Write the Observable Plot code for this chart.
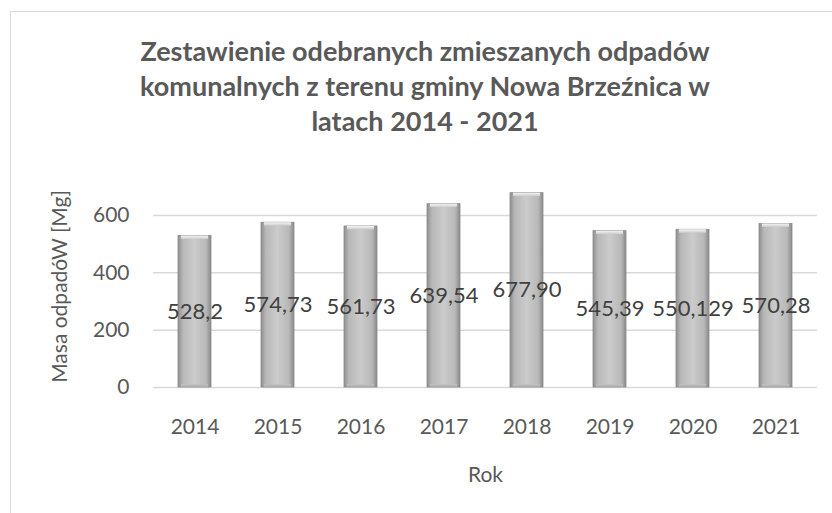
<!DOCTYPE html>
<html>
<head>
<meta charset="utf-8">
<script src="https://cdn.jsdelivr.net/npm/d3@7"></script>
<script src="https://cdn.jsdelivr.net/npm/@observablehq/plot@0.6"></script>
<style>
  html, body { margin: 0; padding: 0; background: #fff; }
  #wrap { position: relative; width: 832px; height: 513px; overflow: hidden; font-family: Lato, "Open Sans", sans-serif; }
  #frame { position: absolute; left: 10px; top: 11px; width: 900px; height: 600px; border-left: 1.5px solid #d9d9d9; border-top: 1.5px solid #d9d9d9; }
  #title { position: absolute; left: 0; top: 33px; width: 850px; text-align: center; font-weight: bold; font-size: 27px; line-height: 35px; color: #595959; }
  #chart { position: absolute; left: 0; top: 0; }
</style>
</head>
<body>
<div id="wrap">
  <div id="frame"></div>
  <div id="chart"></div>
  <div id="title">Zestawienie odebranych zmieszanych odpadów<br>komunalnych z terenu gminy Nowa Brzeźnica w<br>latach 2014 - 2021</div>
</div>
<script>
const years = ["2014", "2015", "2016", "2017", "2018", "2019", "2020", "2021"];
const values = [528.2, 574.73, 561.73, 639.54, 677.90, 545.39, 550.129, 570.28];
const labels = ["528,2", "574,73", "561,73", "639,54", "677,90", "545,39", "550,129", "570,28"];
const yTicks = [0, 200, 400, 600];

const data = years.map((y, i) => ({year: y, value: values[i], label: labels[i]}));

const plot = Plot.plot({
  width: 832,
  height: 513,
  marginLeft: 153,
  marginRight: 15,
  marginTop: 215,
  marginBottom: 126,
  style: {fontFamily: "Lato, 'Open Sans', sans-serif", fontSize: "21px", color: "#595959", background: "transparent", overflow: "visible"},
  x: {domain: years, paddingInner: 0.6, paddingOuter: 0.28, label: null},
  y: {domain: [0, 600], label: null},
  marks: [
    Plot.gridY(yTicks, {stroke: "#d9d9d9", strokeOpacity: 1, strokeWidth: 1.5}),
    Plot.axisY({ticks: yTicks, tickSize: 0, tickPadding: 24, fontSize: 21, fill: "#595959", label: null}),
    Plot.axisX({tickSize: 0, tickPadding: 32, fontSize: 21, fill: "#595959", label: null}),
    Plot.barY(data, {x: "year", y: "value", fill: "url(#barGrad)", stroke: "#8a8a8a", strokeWidth: 0.8}),
    Plot.barY(data, {x: "year", y1: d => d.value - 12, y2: "value", fill: "url(#topGrad)", insetLeft: 3, insetRight: 3}),
    Plot.barY(data, {x: "year", y1: 0, y2: 10, fill: "url(#botGrad)", insetLeft: 3, insetRight: 3}),
    Plot.text(data, {x: "year", y: d => d.value / 2, text: "label", fontSize: 22, fill: "#404040"}),
    Plot.text(["Masa odpadóW [Mg]"], {frameAnchor: "left", textAnchor: "middle", dx: -93, dy: -15, rotate: -90, fontSize: 21, fill: "#595959"}),
    Plot.text(["Rok"], {frameAnchor: "bottom", dx: 0, dy: 94, fontSize: 21, fill: "#595959"})
  ]
});

const defs = d3.select(plot).insert("defs", ":first-child");
const g = defs.append("linearGradient").attr("id", "barGrad").attr("x1", "0").attr("x2", "1").attr("y1", "0").attr("y2", "0");
[["0%", "#8f8f8f"], ["15%", "#b8b8b8"], ["50%", "#cbcbcb"], ["85%", "#b8b8b8"], ["100%", "#8a8a8a"]].forEach(([o, c]) => g.append("stop").attr("offset", o).attr("stop-color", c));
const t = defs.append("linearGradient").attr("id", "topGrad").attr("x1", "0").attr("x2", "0").attr("y1", "0").attr("y2", "1");
[["0%", "#f6f6f6"], ["100%", "#cbcbcb"]].forEach(([o, c]) => t.append("stop").attr("offset", o).attr("stop-color", c));
const b = defs.append("linearGradient").attr("id", "botGrad").attr("x1", "0").attr("x2", "0").attr("y1", "0").attr("y2", "1");
[["0%", "#c4c4c4"], ["100%", "#a8a8a8"]].forEach(([o, c]) => b.append("stop").attr("offset", o).attr("stop-color", c));

document.getElementById("chart").appendChild(plot);
</script>
</body>
</html>
